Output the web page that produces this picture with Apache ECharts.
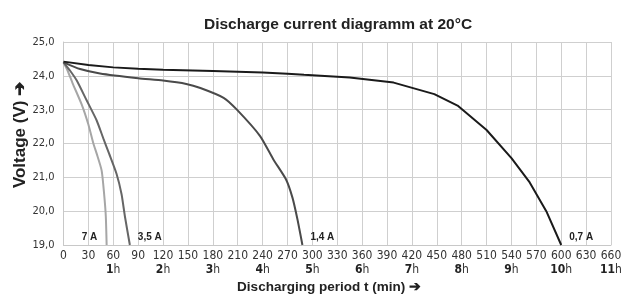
<!DOCTYPE html>
<html>
<head>
<meta charset="utf-8">
<script src="https://cdn.jsdelivr.net/npm/echarts@6/dist/echarts.min.js"></script>
<style>
  html, body { margin: 0; padding: 0; background: #fff; }
  #chart { width: 626px; height: 294px; }
</style>
</head>
<body>
<div id="chart"></div>
<script>
// discharge curves, time in minutes / voltage in V
var t07 = [0, 30, 60, 90, 120, 180, 240, 270, 290, 345, 398, 447, 475, 510, 540, 562, 582, 600];
var v07 = [24.42, 24.32, 24.25, 24.21, 24.18, 24.14, 24.10, 24.06, 24.03, 23.95, 23.80, 23.46, 23.12, 22.40, 21.57, 20.85, 20.00, 19.00];

var t14 = [0, 20, 44, 90, 120, 148, 165, 193, 209, 237, 253, 268, 276, 282, 288];
var v14 = [24.40, 24.20, 24.07, 23.93, 23.86, 23.76, 23.64, 23.35, 23.00, 22.22, 21.53, 20.95, 20.40, 19.76, 19.00];

var t35 = [0, 8, 16, 28, 40, 48, 55, 64, 70, 74, 80];
var v35 = [24.40, 24.15, 23.86, 23.27, 22.68, 22.15, 21.70, 21.10, 20.50, 19.85, 19.00];

var t7 = [0, 5, 11, 22, 30, 36, 40, 46, 49, 51, 52];
var v7 = [24.40, 24.15, 23.78, 23.15, 22.56, 22.00, 21.70, 21.20, 20.50, 19.85, 19.00];

var seriesNames = ['0,7 A', '1,4 A', '3,5 A', '7 A'];

function pairs(t, v) {
  var out = [];
  for (var i = 0; i < t.length; i++) out.push([t[i], v[i]]);
  return out;
}

var narrow = "'Liberation Sans Narrow', 'DejaVu Sans Condensed', 'Liberation Sans', sans-serif";

function makeSeries(name, t, v, color, smooth, labelOffset) {
  return {
    name: name,
    type: 'line',
    data: pairs(t, v),
    symbol: 'none',
    smooth: smooth,
    lineStyle: { color: color, width: 2 },
    endLabel: {
      show: true,
      formatter: name,
      color: '#222',
      fontSize: 10,
      fontWeight: 'bold',
      fontFamily: 'Liberation Sans, Arial, sans-serif',
      distance: 8,
      offset: labelOffset
    }
  };
}

var myChart = echarts.init(document.getElementById('chart'));
myChart.setOption({
  animation: false,
  title: {
    text: 'Discharge current diagramm at 20°C',
    left: 199,
    top: 12,
    textStyle: { fontSize: 15.5, fontWeight: 'bold', color: '#222', fontFamily: 'Liberation Sans, Arial, sans-serif' }
  },
  grid: { left: 63.5, right: 15, top: 42, bottom: 49 },
  xAxis: {
    type: 'value',
    min: 0,
    max: 660,
    interval: 30,
    axisLine: { show: true, lineStyle: { color: '#c8c8c8', width: 1 } },
    axisTick: { show: false },
    splitLine: { show: true, lineStyle: { color: '#cfcfcf', width: 1 } },
    axisLabel: {
      margin: 4,
      color: '#333',
      fontSize: 12,
      fontFamily: narrow,
      lineHeight: 14,
      formatter: function (v) {
        if (v > 0 && v % 60 === 0) {
          return '{v|' + v + '}\n{b|' + (v / 60) + '}{h|h}';
        }
        return '{v|' + v + '}';
      },
      rich: {
        v: { fontSize: 12, fontFamily: narrow, color: '#333', lineHeight: 14 },
        b: { fontSize: 12, fontFamily: narrow, fontWeight: 'bold', color: '#222', lineHeight: 14 },
        h: { fontSize: 12, fontFamily: narrow, color: '#333', lineHeight: 14 }
      }
    }
  },
  yAxis: {
    type: 'value',
    min: 19,
    max: 25,
    interval: 1,
    axisLine: { show: true, lineStyle: { color: '#c8c8c8', width: 1 } },
    axisTick: { show: false },
    splitLine: { show: true, lineStyle: { color: '#cfcfcf', width: 1 } },
    axisLabel: {
      margin: 9,
      color: '#333',
      fontSize: 11,
      fontFamily: narrow,
      formatter: function (v) { return v.toFixed(1).replace('.', ','); }
    }
  },
  graphic: [
    {
      type: 'text',
      x: 20,
      y: 135,
      rotation: Math.PI / 2,
      style: {
        text: 'Voltage (V) ➔',
        fill: '#222',
        font: 'bold 17px "Liberation Sans", Arial, sans-serif',
        align: 'center',
        verticalAlign: 'middle'
      }
    },
    {
      type: 'text',
      x: 329,
      y: 287,
      style: {
        text: 'Discharging period t (min) ➔',
        fill: '#222',
        font: 'bold 13.5px "Liberation Sans", Arial, sans-serif',
        align: 'center',
        verticalAlign: 'middle'
      }
    }
  ],
  series: [
    makeSeries(seriesNames[3], t7, v7, '#a6a6a6', 0.2, [-33, -8]),
    makeSeries(seriesNames[2], t35, v35, '#666666', 0.2, [0, -8]),
    makeSeries(seriesNames[1], t14, v14, '#4a4a4a', 0.2, [0, -8]),
    makeSeries(seriesNames[0], t07, v07, '#1a1a1a', false, [0, -8])
  ]
});
</script>
</body>
</html>
